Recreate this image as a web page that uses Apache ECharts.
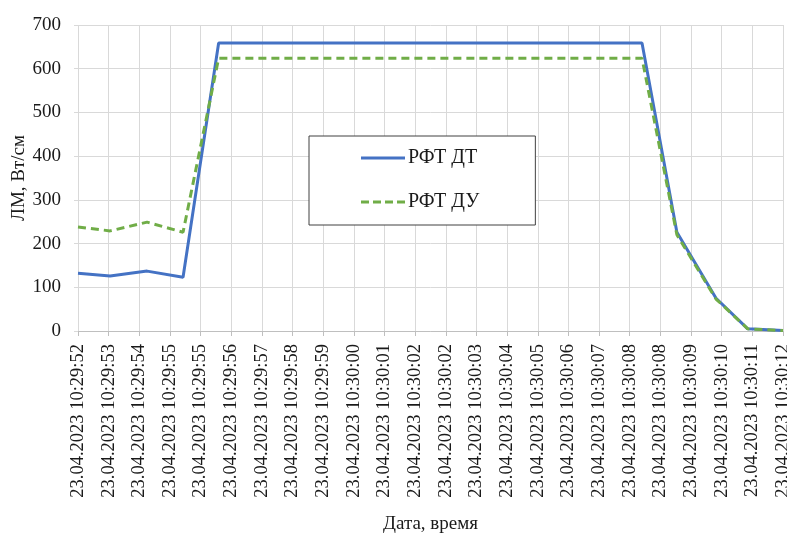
<!DOCTYPE html>
<html>
<head>
<meta charset="utf-8">
<script src="https://cdn.jsdelivr.net/npm/echarts@6/dist/echarts.min.js"></script>
<style>
  html, body { margin: 0; padding: 0; background: #fff; }
  #chart { width: 787px; height: 539px; }
</style>
</head>
<body>
<div id="chart"></div>
<script>
// Tick labels of the time axis (23 equal steps between the first and last reading)
const tickLabels = [
  '23.04.2023 10:29:52', '23.04.2023 10:29:53', '23.04.2023 10:29:54', '23.04.2023 10:29:55',
  '23.04.2023 10:29:55', '23.04.2023 10:29:56', '23.04.2023 10:29:57', '23.04.2023 10:29:58',
  '23.04.2023 10:29:59', '23.04.2023 10:30:00', '23.04.2023 10:30:01', '23.04.2023 10:30:02',
  '23.04.2023 10:30:02', '23.04.2023 10:30:03', '23.04.2023 10:30:04', '23.04.2023 10:30:05',
  '23.04.2023 10:30:06', '23.04.2023 10:30:07', '23.04.2023 10:30:08', '23.04.2023 10:30:08',
  '23.04.2023 10:30:09', '23.04.2023 10:30:10', '23.04.2023 10:30:11', '23.04.2023 10:30:12'
];

// Reading times, seconds after 10:29:52
const timeSec = [0, 0.91, 1.96, 2.98, 3.99, 5, 6, 7, 8, 9, 10, 11, 12, 13, 14, 15, 16.0, 16.99, 18.1, 19.0, 20.0];

// Linear power, W/cm
const rftDT = [132, 126, 137, 123, 659, 659, 659, 659, 659, 659, 659, 659, 659, 659, 659, 659, 659, 226, 75, 5, 1];
const rftDU = [238, 229, 249, 226, 624, 624, 624, 624, 624, 624, 624, 624, 624, 624, 624, 624, 624, 220, 73, 5, 1];

const spanSec = 20;
const stepCount = tickLabels.length - 1;
const toTick = s => s * stepCount / spanSec;

const pairs = vals => vals.map((v, i) => [toTick(timeSec[i]), v]);

const font = '"Liberation Serif", "DejaVu Serif", serif';
const textColor = '#1a1a1a';

const chart = echarts.init(document.getElementById('chart'), null, { renderer: 'canvas' });
chart.setOption({
  backgroundColor: '#ffffff',
  animation: false,
  grid: { left: 78, right: 4, top: 25, bottom: 208, containLabel: false, outerBoundsMode: 'none' },
  xAxis: {
    type: 'value',
    min: 0,
    max: stepCount,
    interval: 1,
    name: 'Дата, время',
    nameLocation: 'middle',
    nameGap: 184,
    nameMoveOverlap: false,
    nameTextStyle: { fontFamily: font, fontSize: 19, color: textColor },
    axisLine: { show: true, lineStyle: { color: '#bfbfbf', width: 1 } },
    axisTick: { show: true, length: 5, lineStyle: { color: '#bfbfbf' } },
    splitLine: { show: true, lineStyle: { color: '#d9d9d9', width: 1 } },
    axisLabel: {
      rotate: 90,
      margin: 13,
      fontFamily: font,
      fontSize: 18.5,
      color: textColor,
      hideOverlap: false,
      formatter: v => tickLabels[Math.round(v)] || ''
    }
  },
  yAxis: {
    type: 'value',
    min: 0,
    max: 700,
    interval: 100,
    name: 'ЛМ, Вт/см',
    nameLocation: 'middle',
    nameGap: 49,
    nameRotate: 90,
    nameMoveOverlap: false,
    nameTextStyle: { fontFamily: font, fontSize: 19, color: textColor },
    axisLine: { show: false },
    axisTick: { show: true, length: 4, lineStyle: { color: '#d9d9d9' } },
    splitLine: { show: true, lineStyle: { color: '#d9d9d9', width: 1 } },
    axisLabel: { margin: 17, fontFamily: font, fontSize: 19, color: textColor }
  },
  legend: {
    orient: 'vertical',
    left: 309,
    top: 136,
    width: 224,
    backgroundColor: '#ffffff',
    borderColor: '#404040',
    borderWidth: 1,
    padding: [12, 56, 13, 52],
    itemGap: 24,
    itemWidth: 44,
    itemHeight: 20,
    textStyle: { fontFamily: font, fontSize: 20, color: textColor, padding: [0, 0, 0, -2] },
    data: [
      { name: 'РФТ ДТ', icon: 'path://M0,0 L44,0 L44,3 L0,3 Z', itemStyle: { color: '#4472c4' } },
      { name: 'РФТ ДУ', icon: 'path://M0,0 L8,0 L8,3 L0,3 Z M12,0 L20,0 L20,3 L12,3 Z M24,0 L32,0 L32,3 L24,3 Z M36,0 L44,0 L44,3 L36,3 Z', itemStyle: { color: '#70ad47' } }
    ]
  },
  series: [
    {
      name: 'РФТ ДТ',
      type: 'line',
      symbol: 'none',
      data: pairs(rftDT),
      lineStyle: { color: '#4472c4', width: 3 },
      itemStyle: { color: '#4472c4' },
      z: 3
    },
    {
      name: 'РФТ ДУ',
      type: 'line',
      symbol: 'none',
      data: pairs(rftDU),
      lineStyle: { color: '#70ad47', width: 3, type: [8, 5] },
      itemStyle: { color: '#70ad47' },
      z: 4
    }
  ]
});
</script>
</body>
</html>
